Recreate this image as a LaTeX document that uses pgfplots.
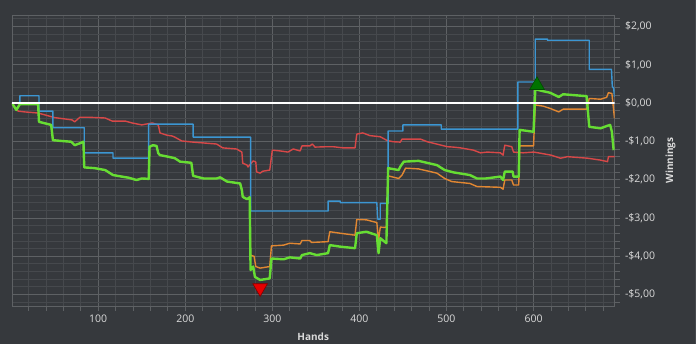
\documentclass[border=0pt]{standalone}
\usepackage{pgfplots}
\pgfplotsset{compat=1.18}
\usepackage{fontspec}
\setmainfont{Open Sans}
\definecolor{bg}{HTML}{36393D}
\definecolor{gridmajor}{HTML}{5E6164}
\definecolor{gridminor}{HTML}{46494D}
\definecolor{ticktext}{HTML}{DADADA}
\definecolor{cblue}{HTML}{3C96D2}
\definecolor{corange}{HTML}{E18732}
\definecolor{cgreen}{HTML}{66DD33}
\definecolor{cred}{HTML}{D74848}
\begin{document}
\begin{tikzpicture}
\useasboundingbox (0,0) rectangle (696pt,344pt);
\fill[bg] (0,0) rectangle (696pt,344pt);
\fill[gridminor] (694.5pt,0) rectangle (696pt,344pt);
\begin{axis}[
  at={(12pt,38pt)}, anchor=south west,
  scale only axis, width=602.5pt, height=291pt,
  xmin=1, xmax=693, ymin=-5.3, ymax=2.3,
  axis background/.style={fill=bg},
  axis line style={draw=gridmajor, line width=0.8pt},
  xtick={100,200,300,400,500,600},
  xticklabels={100,200,300,400,500,600},
  minor xtick={20,40,60,80,120,140,160,180,220,240,260,280,320,340,360,380,420,440,460,480,520,540,560,580,620,640,660,680},
  ytick={-5,-4,-3,-2,-1,0,1,2},
  yticklabels={{-\$5,00},{-\$4,00},{-\$3,00},{-\$2,00},{-\$1,00},{\$0,00},{\$1,00},{\$2,00}},
  minor ytick={-5.2,-4.8,-4.6,-4.4,-4.2,-3.8,-3.6,-3.4,-3.2,-2.8,-2.6,-2.4,-2.2,-1.8,-1.6,-1.4,-1.2,-0.8,-0.6,-0.4,-0.2,0.2,0.4,0.6,0.8,1.2,1.4,1.6,1.8,2.2},
  grid=both,
  major grid style={draw=gridmajor, line width=0.8pt},
  minor grid style={draw=gridminor, line width=0.8pt},
  tick align=outside,
  major tick length=5pt, minor tick length=5pt,
  every tick/.style={draw=gridmajor, line width=0.8pt},
  minor tick style={draw=gridmajor, line width=0.8pt},
  xtick pos=left, ytick pos=right,
  xticklabel pos=left, yticklabel pos=right,
  /pgf/number format/assume math mode=true,
  ticklabel style={font=\fontsize{10.5}{12}\selectfont, text=ticktext},
  yticklabel style={anchor=west, xshift=2pt},
  xlabel={Hands}, ylabel={Winnings},
  xlabel style={at={(axis description cs:0.5,0)}, anchor=center, yshift=-31pt, font=\bfseries\fontsize{10}{12}\selectfont, text=ticktext},
  ylabel style={at={(axis description cs:1,0.5)}, anchor=center, yshift=-56pt, font=\bfseries\fontsize{10}{12}\selectfont, text=ticktext},
  line plot/.style={mark=none, line join=round},
]
% red
\addplot[line plot, cred, line width=1.4pt] coordinates {
(1,0) (4,-0.1) (8,-0.21) (15,-0.23) (31,-0.26) (50,-0.38) (70,-0.44) (73,-0.49) (79,-0.37) (88,-0.37) (108,-0.39) (116,-0.47) (131,-0.47) (139,-0.52) (150,-0.57) (162,-0.52) (169,-0.57) (171,-0.78) (179,-0.84) (185,-0.86) (188,-0.89) (196,-0.99) (209,-1.02) (220,-1.04) (236,-1.07) (243,-1.17) (259,-1.20) (265,-1.28) (266,-1.57) (271,-1.62) (272,-1.67) (278,-1.51) (281,-1.54) (282,-1.80) (286,-1.83) (289,-1.78) (297,-1.75) (300,-1.23) (309,-1.25) (318,-1.28) (324,-1.20) (332,-1.25) (334,-1.12) (343,-1.12) (346,-1.07) (349,-1.15) (363,-1.14) (370,-1.14) (381,-1.17) (395,-1.17) (397,-0.81) (404,-0.78) (412,-0.85) (424,-0.88) (432,-0.98) (439,-1.01) (447,-1.02) (449,-0.94) (462,-0.94) (470,-0.94) (478,-1.01) (501,-1.14) (508,-1.15) (516,-1.17) (531,-1.23) (539,-1.30) (547,-1.28) (562,-1.30) (565,-1.36) (567,-1.10) (575,-1.14) (577,-1.28) (588,-1.30) (600,-1.28) (608,-1.31) (620,-1.36) (631,-1.44) (639,-1.40) (662,-1.44) (677,-1.49) (685,-1.53) (686,-1.40) (693,-1.40)
};
% orange
\addplot[line plot, corange, line width=1.4pt] coordinates {
(1,0) (6,-0.18) (10,-0.03) (31,-0.03) (32,-0.49) (46,-0.57) (48,-0.97) (58,-0.99) (69,-1.01) (73,-1.10) (79,-1.05) (83,-1.01) (84,-1.68) (96,-1.70) (108,-1.75) (117,-1.88) (127,-1.92) (135,-1.95) (144,-2.01) (150,-1.97) (158,-1.98) (159,-1.14) (163,-1.10) (167,-1.12) (169,-1.31) (171,-1.36) (180,-1.40) (188,-1.44) (194,-1.53) (207,-1.56) (209,-1.90) (221,-1.97) (236,-1.97) (240,-1.94) (248,-2.05) (263,-2.10) (265,-2.27) (266,-2.45) (271,-2.51) (274,-2.46)
(275,-3.98) (279,-4.00) (281,-4.27) (286,-4.31) (297,-4.27) (299,-3.73) (313,-3.71) (320,-3.66) (332,-3.68) (334,-3.59) (343,-3.59) (345,-3.64) (364,-3.62) (366,-3.36) (378,-3.40) (395,-3.45) (397,-3.04) (408,-3.05) (420,-3.12) (422,-3.58) (424,-3.24) (431,-3.25) (433,-1.90) (445,-1.97) (449,-1.88) (453,-1.70) (468,-1.72) (489,-1.83) (498,-1.97) (506,-2.05) (527,-2.10) (535,-2.18) (562,-2.20) (565,-2.25) (567,-2.01) (575,-2.01) (577,-2.14) (583,-2.14) (584,-1.12) (600,-1.12) (602,-0.05) (611,-0.08) (619,-0.14) (629,-0.23) (634,-0.16) (661,-0.16) (664,0.12) (677,0.10) (684,0.15) (686,0.27) (690,0.25) (692,-0.18) (693,-0.40)
};
% blue
\addplot[line plot, cblue, line width=1.4pt] coordinates {
(1,0) (10,0) (10,0.19) (32,0.19) (32,-0.21) (48,-0.21) (48,-0.64) (84,-0.64) (84,-1.30) (117,-1.30) (117,-1.44) (158,-1.44) (158,-0.55) (209,-0.55) (209,-0.89) (275,-0.89) (275,-2.82) (364,-2.82) (364,-2.56) (378,-2.56) (378,-2.60) (420,-2.60) (421,-3.03) (424,-3.03) (424,-2.62) (433,-2.62) (433,-0.73) (450,-0.73) (450,-0.57) (494,-0.57) (494,-0.68) (582,-0.68) (582,0.55) (602,0.55) (602,1.67) (616,1.67) (616,1.64) (664,1.64) (664,0.88) (689.5,0.88) (690.5,0.43) (692,0.39) (693,0.16)
};
% green
\addplot[line plot, cgreen, line width=2.4pt] coordinates {
(1,0) (6,-0.18) (10,-0.03) (31,-0.03) (32,-0.49) (46,-0.57) (48,-0.97) (58,-0.99) (69,-1.01) (73,-1.10) (79,-1.05) (83,-1.01) (84,-1.68) (96,-1.70) (108,-1.75) (117,-1.88) (127,-1.92) (135,-1.95) (144,-2.01) (150,-1.97) (158,-1.98) (159,-1.14) (163,-1.10) (167,-1.12) (169,-1.31) (171,-1.36) (180,-1.40) (188,-1.44) (194,-1.53) (207,-1.56) (209,-1.90) (221,-1.97) (236,-1.97) (240,-1.94) (248,-2.05) (263,-2.10) (265,-2.27) (266,-2.45) (271,-2.51) (274,-2.46) (275,-4.36) (278,-4.27) (280,-4.54) (286,-4.62) (297,-4.58) (299,-4.06) (313,-4.08) (320,-4.03) (332,-4.06) (334,-3.97) (343,-3.92) (351,-3.97) (364,-3.92) (366,-3.71) (378,-3.75) (395,-3.79) (397,-3.40) (408,-3.36) (420,-3.45) (422,-3.92) (424,-3.53) (431,-3.66) (433,-1.70) (445,-1.75) (447,-1.66) (451,-1.53) (468,-1.51) (489,-1.62) (498,-1.75) (508,-1.81) (527,-1.88) (535,-1.97) (545,-1.97) (562,-1.92) (565,-2.01) (567,-1.79) (576,-1.79) (577,-1.92) (583,-1.92) (584,-0.70) (600,-0.75) (602,0.36) (611,0.31) (619,0.27) (629,0.16) (634,0.23) (661,0.18) (664,-0.62) (677,-0.66) (684,-0.60) (688,-0.57) (690,-0.75) (692,-1.23)
};
% zero line
\addplot[line plot, white, line width=2.2pt] coordinates {(1,0) (693,0)};
% max / min markers
\addplot[only marks, mark=triangle*, mark size=8.5pt, mark options={fill=green!45!black, draw=green!30!black, line width=0.6pt, yshift=4pt}] coordinates {(604,0.36)};
\addplot[only marks, mark=triangle*, mark size=8.5pt, mark options={fill=red!90!black, draw=red!50!black, line width=0.6pt, rotate=180, yshift=8pt}] coordinates {(286,-4.62)};
\end{axis}
\end{tikzpicture}
\end{document}
